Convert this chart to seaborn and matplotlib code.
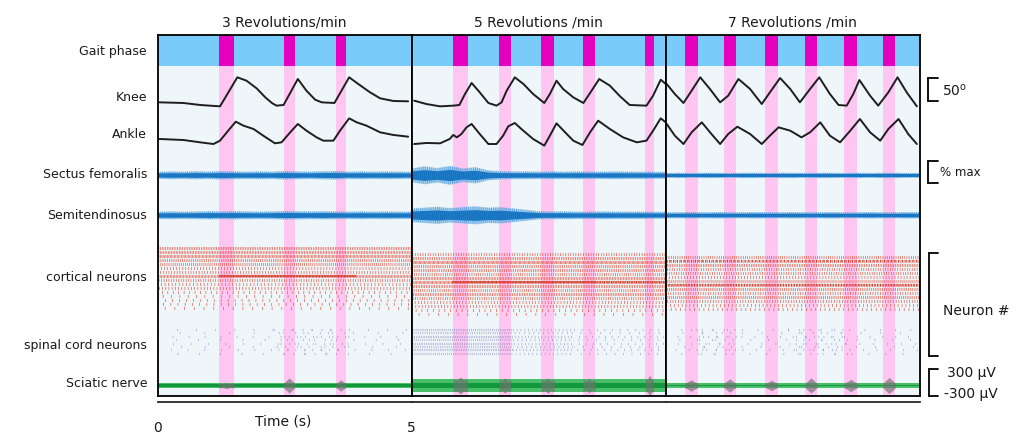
import numpy as np
import pandas as pd
import matplotlib
matplotlib.use('Agg')
import matplotlib.pyplot as plt
from matplotlib.lines import Line2D
import seaborn as sns

# === DATA ===

titles = ['3 Revolutions/min', '5 Revolutions /min', '7 Revolutions /min']
track_labels = ['Gait phase', 'Knee', 'Ankle', 'Sectus femoralis', 'Semitendinosus',
                'cortical neurons', 'spinal cord neurons', 'Sciatic nerve']

# swing phases (s) per speed
swing_p1 = [(1.20, 1.51), (2.48, 2.70), (3.51, 3.70)]
swing_p2 = [(0.82, 1.10), (1.72, 1.95), (2.55, 2.81), (3.37, 3.61), (4.60, 4.76)]
swing_p3 = [(0.37, 0.63), (1.14, 1.38), (1.96, 2.20), (2.74, 2.98), (3.51, 3.77), (4.27, 4.52)]

# knee angle (deg, relative)
knee_t_p1 = [0.04, 0.51, 0.84, 1.23, 1.57, 1.75, 1.95, 2.12, 2.25, 2.34, 2.48, 2.76, 2.93,
             3.10, 3.23, 3.48, 3.77, 3.95, 4.18, 4.38, 4.64, 4.93]
knee_p1 = [14.3, 12.9, 8.6, 5.7, 68.0, 60.8, 44.3, 25.0, 12.9, 7.2, 8.6, 64.4, 39.3,
           20.0, 14.3, 12.9, 68.0, 53.6, 35.8, 22.9, 17.2, 16.5]
knee_t_p2 = [0.05, 0.29, 0.56, 0.82, 0.94, 1.05, 1.18, 1.34, 1.51, 1.67, 1.77, 1.87, 2.03,
             2.20, 2.39, 2.61, 2.72, 2.85, 2.98, 3.18, 3.38, 3.54, 3.69, 3.90, 4.10, 4.29,
             4.62, 4.75, 4.90, 5.00]
knee_p2 = [17.9, 10.7, 5.7, 7.2, 8.6, 32.2, 55.8, 35.8, 12.9, 7.2, 14.3, 39.3, 68.0,
           53.6, 32.2, 12.9, 32.2, 60.8, 42.9, 25.0, 12.9, 39.3, 64.4, 50.1, 27.2, 8.6,
           7.2, 28.6, 62.9, 53.6]
knee_t_p3 = [0.02, 0.18, 0.35, 0.51, 0.68, 0.87, 1.07, 1.23, 1.43, 1.66, 1.89, 2.05, 2.25,
             2.45, 2.64, 2.84, 3.02, 3.23, 3.40, 3.56, 3.69, 3.81, 4.02, 4.18, 4.38, 4.56,
             4.74, 4.94]
knee_p3 = [53.6, 32.2, 12.9, 39.3, 68.0, 42.9, 14.3, 28.6, 64.4, 42.9, 10.7, 35.8, 66.5,
           42.9, 14.3, 42.9, 68.0, 32.2, 8.6, 7.2, 32.2, 62.2, 28.6, 7.2, 35.8, 68.0,
           35.8, 5.7]

# ankle angle (deg, relative)
ankle_t_p1 = [0.04, 0.51, 0.84, 1.10, 1.23, 1.39, 1.54, 1.69, 1.89, 2.08, 2.31, 2.44, 2.61,
              2.76, 2.93, 3.13, 3.26, 3.46, 3.59, 3.77, 3.92, 4.11, 4.38, 4.64, 4.93]
ankle_p1 = [17.2, 15.0, 10.0, 6.4, 13.6, 35.0, 54.4, 45.8, 38.6, 24.3, 7.9, 10.0, 31.5,
            49.4, 35.0, 20.7, 13.6, 13.6, 35.0, 61.5, 52.9, 45.8, 31.5, 25.8, 22.2]
ankle_t_p2 = [0.05, 0.29, 0.56, 0.75, 0.82, 0.89, 0.98, 1.08, 1.18, 1.34, 1.51, 1.67, 1.80,
              1.90, 2.03, 2.16, 2.39, 2.61, 2.72, 2.85, 3.02, 3.18, 3.36, 3.51, 3.67, 3.90,
              4.16, 4.43, 4.62, 4.75, 4.90, 5.00]
ankle_p2 = [6.4, 8.6, 7.9, 17.2, 25.8, 20.7, 27.9, 42.2, 49.4, 27.9, 6.4, 6.4, 24.3,
            44.3, 51.5, 38.6, 17.2, 2.9, 24.3, 50.8, 31.5, 13.6, 4.3, 31.5, 56.5, 38.6,
            20.7, 10.0, 13.6, 35.0, 61.5, 52.9]
ankle_t_p3 = [0.02, 0.18, 0.35, 0.51, 0.71, 0.90, 1.07, 1.23, 1.41, 1.66, 1.89, 2.05, 2.22,
              2.45, 2.67, 2.84, 3.04, 3.23, 3.43, 3.63, 3.82, 4.02, 4.22, 4.38, 4.58, 4.77,
              4.94]
ankle_p3 = [49.4, 24.3, 6.4, 31.5, 52.9, 27.9, 6.4, 27.9, 43.6, 27.9, 6.4, 24.3, 42.2,
            35.0, 20.7, 31.5, 52.9, 24.3, 10.0, 35.0, 60.1, 31.5, 13.6, 38.6, 60.1, 27.9,
            6.4]

# EMG envelope (% max) sampled every 0.25 s
emg_t = [0.0, 0.25, 0.5, 0.75, 1.0, 1.25, 1.5, 1.75, 2.0, 2.25, 2.5, 2.75, 3.0,
         3.25, 3.5, 3.75, 4.0, 4.25, 4.5, 4.75, 5.0]
rf_env_p1 = [15, 17, 16, 18, 16, 19, 17, 16, 17, 16, 19, 17, 16, 18, 19, 16, 17, 16, 17, 16, 15]
rf_env_p2 = [30, 40, 32, 42, 30, 36, 22, 18, 17, 17, 16, 17, 16, 17, 16, 16, 17, 16, 16, 15, 15]
rf_env_p3 = [11, 12, 11, 12, 12, 11, 12, 12, 11, 12, 12, 11, 12, 12, 11, 12, 11, 12, 12, 11, 11]
st_env_p1 = [16, 17, 16, 17, 18, 17, 18, 17, 16, 17, 19, 18, 17, 18, 17, 16, 17, 16, 17, 16, 16]
st_env_p2 = [30, 34, 38, 32, 36, 40, 34, 36, 30, 24, 18, 17, 17, 16, 16, 17, 16, 16, 16, 15, 15]
st_env_p3 = [13, 13, 14, 13, 14, 13, 13, 14, 13, 13, 14, 13, 13, 14, 13, 13, 14, 13, 13, 14, 13]

# sciatic nerve: baseline half amplitude and bursts during swing (uV)
sciatic_base = [56, 135, 45]
sciatic_burst_p1 = [70, 170, 130]
sciatic_burst_p2 = [190, 170, 170, 160, 230]
sciatic_burst_p3 = [130, 150, 120, 170, 140, 180]

# cortical raster: spike density per neuron row, plus strongly firing rows
ctx_dens_p1 = [0.45, 0.55, 0.5, 0.45, 0.35, 0.3, 0.25, 0.55, 0.3, 0.25, 0.2, 0.15, 0.12, 0.1, 0.12, 0.08]
ctx_dens_p2 = [0.3, 0.5, 0.55, 0.45, 0.4, 0.4, 0.45, 0.6, 0.45, 0.4, 0.4, 0.35, 0.3, 0.22, 0.15, 0.08]
ctx_dens_p3 = [0.35, 0.45, 0.4, 0.35, 0.3, 0.3, 0.35, 0.5, 0.4, 0.35, 0.35, 0.3, 0.25, 0.15]
ctx_hot_p1 = [(7, 1.20, 3.90, 0.8)]
ctx_hot_p2 = [(7, 0.80, 3.60, 0.8), (7, 3.60, 5.00, 0.55)]
ctx_hot_p3 = [(1, 0.00, 5.00, 0.35), (7, 0.00, 5.00, 0.45)]

# spinal cord raster: (t start, t end, density)
sp_seg_p1 = [(0.0, 5.0, 0.04), (2.3, 3.7, 0.08)]
sp_seg_p2 = [(0.0, 2.0, 0.40), (2.0, 3.2, 0.20), (3.2, 5.0, 0.10)]
sp_seg_p3 = [(0.0, 5.0, 0.05), (0.5, 1.4, 0.07), (2.4, 3.6, 0.07)]

swings = [swing_p1, swing_p2, swing_p3]
knee_t = [knee_t_p1, knee_t_p2, knee_t_p3]
knee = [knee_p1, knee_p2, knee_p3]
ankle_t = [ankle_t_p1, ankle_t_p2, ankle_t_p3]
ankle = [ankle_p1, ankle_p2, ankle_p3]
rf_env = [rf_env_p1, rf_env_p2, rf_env_p3]
st_env = [st_env_p1, st_env_p2, st_env_p3]
sc_burst = [sciatic_burst_p1, sciatic_burst_p2, sciatic_burst_p3]
ctx_dens = [ctx_dens_p1, ctx_dens_p2, ctx_dens_p3]
ctx_hot = [ctx_hot_p1, ctx_hot_p2, ctx_hot_p3]
sp_seg = [sp_seg_p1, sp_seg_p2, sp_seg_p3]

# === LAYOUT (pixel units of the 1017x435 canvas) ===
W, H = 1017, 435
PX0 = [157.5, 411.6, 665.7]
PW = 254.2
TOP, BOT, GAIT_BOT = 36, 397, 66.7
KNEE_Y, ANKLE_Y = 110, 148
DEG_PX = 23.3 / 50
RF_Y, ST_Y = 176, 216
PCT_PX = 22.3 / 100
SC_Y = 386.5
UV_PX = 26.7 / 600
CTX_Y0 = [249, 255, 258]
SP_Y0 = 331

C_BG = '#eff6f9'
C_GAIT = '#79cbfa'
C_SWING = '#e500c0'
C_PINK = '#fec6f1'
TXT = '#1a1a1a'

# per-row jitter of the tick spacing so rows do not line up
ROW_STRETCH = [1.0, 1.31, 0.83, 1.17, 0.91, 1.26, 0.87, 1.12, 0.95, 1.22, 0.8, 1.08, 1.35, 0.9, 1.15, 1.02]
ROW_SHIFT = [0.0, 2.3, 0.9, 3.1, 1.6, 0.4, 2.7, 1.2, 3.4, 0.7, 2.0, 1.4, 2.9, 0.2, 1.8, 2.5]

sns.set_style('white')
plt.rcParams['font.family'] = ['DejaVu Sans']
plt.rcParams['lines.scale_dashes'] = False

fig = plt.figure(figsize=(W / 100, H / 100), dpi=100)


def fx(p):
    return p / W


def fy(p):
    return 1 - p / H


def raster(ax, y0, step, dens, color, lw, t0=0.0, t1=5.0, alpha=0.8, on=0.55):
    lines = []
    for i, d in enumerate(dens):
        if d <= 0:
            continue
        off = on * (1 / d - 1) * ROW_STRETCH[i % len(ROW_STRETCH)]
        ln, = ax.plot([t0, t1], [y0 + i * step] * 2, color=color, lw=lw, alpha=alpha,
                      linestyle=(ROW_SHIFT[i % len(ROW_SHIFT)] % (on + off), (on, off)),
                      dash_capstyle='butt')
        lines.append(ln)
    return lines


for k in range(3):
    ax = fig.add_axes([fx(PX0[k]), fy(BOT), PW / W, (BOT - TOP) / H])
    ax.set_xlim(0, 5)
    ax.set_ylim(BOT, TOP)
    ax.set_facecolor(C_BG)
    ax.set_xticks([])
    ax.set_yticks([])
    for s in ax.spines.values():
        s.set_color('black')
        s.set_linewidth(1.3)
        s.set_zorder(10)

    # gait phase bar and swing stripes
    ax.fill_between([0, 5], TOP, GAIT_BOT, color=C_GAIT, lw=0)
    for (a, b) in swings[k]:
        ax.fill_between([a, b], TOP, GAIT_BOT, color=C_SWING, lw=0)
        ax.fill_between([a, b], GAIT_BOT, BOT, color=C_PINK, lw=0)

    # joint angles
    df = pd.DataFrame({'t': knee_t[k], 'y': KNEE_Y - np.array(knee[k]) * DEG_PX})
    sns.lineplot(data=df, x='t', y='y', ax=ax, color='#1e1e1e', lw=1.4, sort=False, estimator=None)
    df = pd.DataFrame({'t': ankle_t[k], 'y': ANKLE_Y - np.array(ankle[k]) * DEG_PX})
    sns.lineplot(data=df, x='t', y='y', ax=ax, color='#1e1e1e', lw=1.4, sort=False, estimator=None)

    # EMG: envelope, dense core and a ticky texture clipped to the envelope
    for yc, env in [(RF_Y, rf_env[k]), (ST_Y, st_env[k])]:
        e = np.array(env) * PCT_PX
        outer = ax.fill_between(emg_t, yc - e, yc + e, color='#6ab6ea', lw=0, alpha=0.55)
        ax.fill_between(emg_t, yc - 0.6 * e, yc + 0.6 * e, color='#1473c0', lw=0)
        clip = outer.get_paths()[0]
        for ln in raster(ax, yc, 0, [0.4], '#2f86d0', 2 * e.max() / 1.39, alpha=0.6, on=0.6):
            ln.set_clip_path(clip, ax.transData)

    # cortical neurons
    raster(ax, CTX_Y0[k], 4, ctx_dens[k], '#e2422c', 2.2, alpha=0.75)
    for (row, a, b, d) in ctx_hot[k]:
        ax.plot([a, b], [CTX_Y0[k] + row * 4] * 2, color='#d42a18', lw=1.6, alpha=0.8,
                linestyle=(0, (0.9, 0.9 * (1 / d - 1))))

    # spinal cord neurons
    for (a, b, d) in sp_seg[k]:
        raster(ax, SP_Y0, 3.4, [d] * 8, '#6a6aa8', 1.6, t0=a, t1=b, alpha=0.5)

    # sciatic nerve
    base = sciatic_base[k] * UV_PX
    ax.fill_between([0, 5], SC_Y - base, SC_Y + base, color='#2cb552', lw=0, alpha=0.85)
    ax.fill_between([0, 5], SC_Y - 0.45 * base, SC_Y + 0.45 * base, color='#11983a', lw=0)
    for (a, b), amp in zip(swings[k], sc_burst[k]):
        m = (a + b) / 2
        q = (b - a) / 4
        ts = [a, a + q, m, b - q, b]
        hi = [base, 0.65 * amp * UV_PX, amp * UV_PX, 0.65 * amp * UV_PX, base]
        ax.fill_between(ts, [SC_Y - h for h in hi], [SC_Y + h for h in hi],
                        color='#707070', lw=0, alpha=0.65)

    ax.set_xlabel('')
    ax.set_ylabel('')
    ax.set_title(titles[k], fontsize=10, pad=7, color=TXT)

    # time axis under each panel
    axt = fig.add_axes([fx(PX0[k]), fy(402.7), PW / W, 0.0001])
    axt.set_xlim(0, 5)
    axt.patch.set_alpha(0)
    for s in ['top', 'left', 'right']:
        axt.spines[s].set_visible(False)
    axt.spines['bottom'].set_linewidth(1.3)
    axt.set_yticks([])
    axt.set_xticks([0, 5])
    axt.tick_params(axis='x', direction='out', length=6.5, width=1.3, pad=7, labelsize=10,
                    labelcolor=TXT)
    if k == 0:
        axt.set_xticklabels(['0', '5'])
    else:
        axt.set_xticklabels(['', ''])

fig.text(fx(283), fy(422), 'Time (s)', ha='center', va='center', fontsize=10, color=TXT)

label_y = [51.7, 97.7, 135, 175, 216, 277.7, 346, 384]
for lab, y in zip(track_labels, label_y):
    fig.text(fx(147), fy(y), lab, ha='right', va='center', fontsize=9, color=TXT)


def bracket(x, y0, y1, x2):
    for xs, ys in [([x, x], [y0, y1]), ([x, x2], [y0, y0]), ([x, x2], [y1, y1])]:
        fig.add_artist(Line2D([fx(v) for v in xs], [fy(v) for v in ys], color='black', lw=1.3))


bracket(928.3, 79, 79 + 50 * DEG_PX, 937.5)
fig.text(fx(941.5), fy(91), '50$^{\\mathrm{o}}$', ha='left', va='center', fontsize=10, color=TXT)
bracket(928.3, 161.7, 184, 937.5)
fig.text(fx(940), fy(172), '% max', ha='left', va='center', fontsize=8.5, color=TXT)
bracket(929, 254, 356.7, 937.5)
fig.text(fx(943), fy(311), 'Neuron #', ha='left', va='center', fontsize=10, color=TXT)
bracket(929, 370, 370 + 600 * UV_PX, 937.5)
fig.text(fx(971.5), fy(373.3), '300 \u00b5V', ha='center', va='center', fontsize=10, color=TXT)
fig.text(fx(971), fy(394), '-300 \u00b5V', ha='center', va='center', fontsize=10, color=TXT)

fig.savefig('out.png', dpi=100)
